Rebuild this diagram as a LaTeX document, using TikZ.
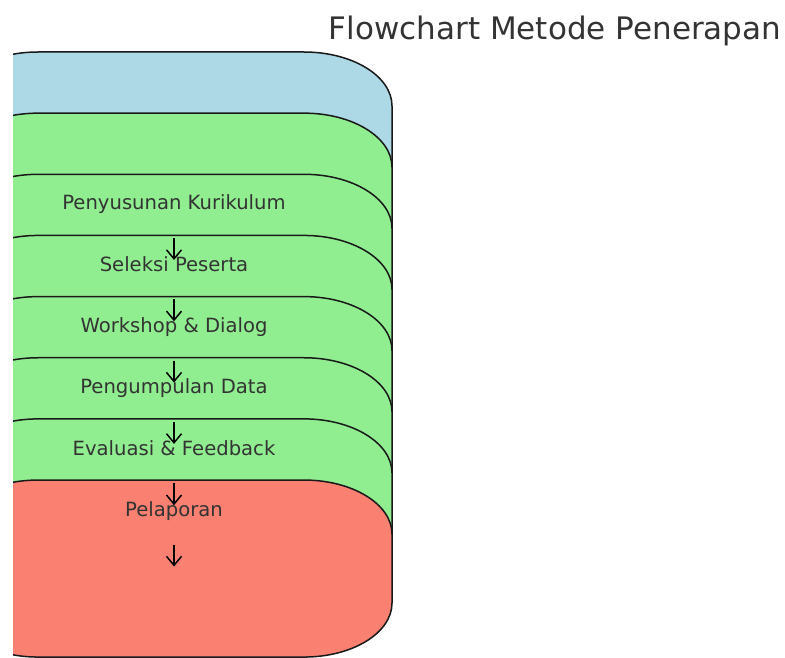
\documentclass[tikz,border=0pt]{standalone}
\usepackage{fontspec}
\setmainfont{DejaVu Sans}
\usetikzlibrary{arrows.meta}

\definecolor{birumuda}{HTML}{ADD8E6}
\definecolor{hijaumuda}{HTML}{90EE90}
\definecolor{salmon}{HTML}{FA8072}

\tikzset{
  tahap/.style={fill=#1, draw=black!90, line width=1.5pt},
  teks/.style={anchor=base, inner sep=0pt, text=black!80, font=\fontsize{19.6}{23}\selectfont},
  judul/.style={anchor=base, inner sep=0pt, text=black!80, font=\fontsize{31}{36}\selectfont},
  panah/.style={-{Straight Barb[length=9pt,width=15pt]}, line width=1.5pt, black}
}

\begin{document}
\begin{tikzpicture}[x=1pt,y=1pt]
  \useasboundingbox (0,0) rectangle (785,657);

  % kotak tahapan, saling menumpuk dari atas ke bawah
  \begin{scope}
    \clip (13,0) rectangle (785,657);
    \foreach \k/\warna in {0/birumuda,1/hijaumuda,2/hijaumuda,3/hijaumuda,
                           4/hijaumuda,5/hijaumuda,6/hijaumuda,7/salmon} {
      \pgfmathsetmacro{\atas}{605-61.15*\k}
      \pgfmathsetmacro{\bawah}{\atas-177}
      \filldraw[tahap=\warna] (-50,\bawah+54) -- (-50,\atas-54)
        arc[start angle=180, end angle=90, x radius=88, y radius=54] -- (304,\atas)
        arc[start angle=90, end angle=0, x radius=88, y radius=54] -- (392,\bawah+54)
        arc[start angle=0, end angle=-90, x radius=88, y radius=54] -- (38,\bawah)
        arc[start angle=-90, end angle=-180, x radius=88, y radius=54] -- cycle;
    }
  \end{scope}

  % judul
  \node[judul] (judul) at (555,617) {Flowchart Metode Penerapan};

  % nama tahapan
  \foreach \i/\nama in {1/Penyusunan Kurikulum, 2/Seleksi Peserta,
                        3/Workshop \& Dialog, 4/Pengumpulan Data,
                        5/Evaluasi \& Feedback, 6/Pelaporan} {
    \node[teks] (l\i) at (174,{447-61.3*(\i-1)}) {\nama};
  }

  % panah antar tahapan
  \foreach \i in {1,...,6} {
    \draw[panah] ([yshift=-28pt]l\i.base) -- ([yshift=-50pt]l\i.base);
  }
\end{tikzpicture}
\end{document}
